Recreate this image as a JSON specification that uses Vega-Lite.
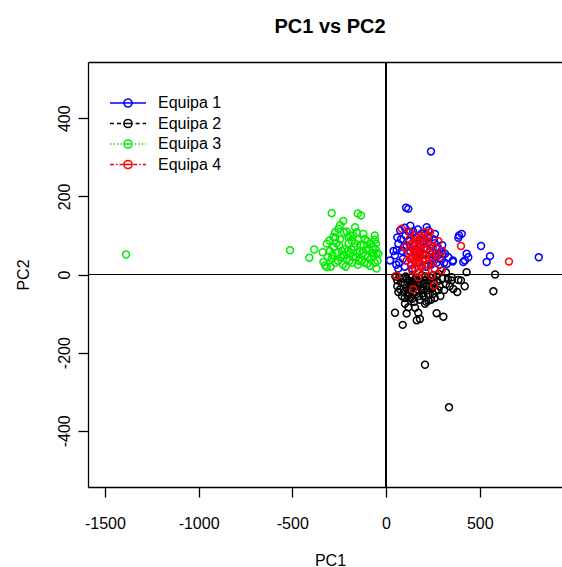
{
  "$schema": "https://vega.github.io/schema/vega-lite/v6.json",
  "autosize": "none",
  "width": 474,
  "height": 425,
  "padding": {"left": 88, "top": 62, "right": 0, "bottom": 80},
  "background": "white",
  "title": {"text": "PC1 vs PC2", "font": "Liberation Sans", "fontSize": 20, "fontWeight": "bold", "color": "black", "anchor": "middle", "dx": 5, "offset": 25},
  "config": {
    "view": {"stroke": null},
    "axis": {"grid": false, "domainColor": "black", "domainWidth": 1.3, "tickColor": "black", "tickWidth": 1.3, "tickSize": 10, "labelFont": "Liberation Sans", "labelFontSize": 16, "labelColor": "black", "titleFont": "Liberation Sans", "titleFontSize": 16, "titleFontWeight": "normal", "titleColor": "black"},
    "legend": {"title": null, "orient": "none", "legendX": 30, "legendY": 31, "padding": 0, "labelFont": "Liberation Sans", "labelFontSize": 16, "labelColor": "black", "labelOffset": 20, "rowPadding": 2.5, "symbolSize": 324, "symbolStrokeWidth": 1.5, "symbolOpacity": 1, "symbolFillColor": "transparent"}
  },
  "data": {"values": [
    {"grupo":"Equipa 2","PC1":48,"PC2":-98},{"grupo":"Equipa 2","PC1":89,"PC2":-129},{"grupo":"Equipa 2","PC1":119,"PC2":-84},{"grupo":"Equipa 2","PC1":101,"PC2":-75},{"grupo":"Equipa 2","PC1":172,"PC2":-98},{"grupo":"Equipa 2","PC1":181,"PC2":-114},{"grupo":"Equipa 2","PC1":164,"PC2":-117},{"grupo":"Equipa 2","PC1":270,"PC2":-99},{"grupo":"Equipa 2","PC1":306,"PC2":-108},{"grupo":"Equipa 2","PC1":226,"PC2":-67},{"grupo":"Equipa 2","PC1":208,"PC2":-75},{"grupo":"Equipa 2","PC1":66,"PC2":-45},{"grupo":"Equipa 2","PC1":359,"PC2":-37},{"grupo":"Equipa 2","PC1":386,"PC2":-14},{"grupo":"Equipa 2","PC1":350,"PC2":-7},{"grupo":"Equipa 2","PC1":430,"PC2":6},{"grupo":"Equipa 2","PC1":582,"PC2":0},{"grupo":"Equipa 2","PC1":573,"PC2":-43},{"grupo":"Equipa 2","PC1":350,"PC2":-15},{"grupo":"Equipa 2","PC1":208,"PC2":-231},{"grupo":"Equipa 2","PC1":336,"PC2":-340},{"grupo":"Equipa 2","PC1":130,"PC2":-60},{"grupo":"Equipa 2","PC1":150,"PC2":-70},{"grupo":"Equipa 2","PC1":200,"PC2":-55},{"grupo":"Equipa 2","PC1":250,"PC2":-50},{"grupo":"Equipa 2","PC1":280,"PC2":-40},{"grupo":"Equipa 2","PC1":320,"PC2":-25},{"grupo":"Equipa 2","PC1":300,"PC2":-10},{"grupo":"Equipa 2","PC1":270,"PC2":-5},{"grupo":"Equipa 2","PC1":240,"PC2":-20},{"grupo":"Equipa 2","PC1":400,"PC2":-15},{"grupo":"Equipa 2","PC1":420,"PC2":-30},{"grupo":"Equipa 2","PC1":380,"PC2":-45},{"grupo":"Equipa 2","PC1":110,"PC2":-100},{"grupo":"Equipa 2","PC1":60,"PC2":-30},{"grupo":"Equipa 2","PC1":80,"PC2":-20},{"grupo":"Equipa 2","PC1":90,"PC2":-10},{"grupo":"Equipa 2","PC1":100,"PC2":-25},{"grupo":"Equipa 2","PC1":110,"PC2":-35},{"grupo":"Equipa 2","PC1":120,"PC2":-15},{"grupo":"Equipa 2","PC1":130,"PC2":-40},{"grupo":"Equipa 2","PC1":140,"PC2":-5},{"grupo":"Equipa 2","PC1":150,"PC2":-30},{"grupo":"Equipa 2","PC1":160,"PC2":-45},{"grupo":"Equipa 2","PC1":170,"PC2":-20},{"grupo":"Equipa 2","PC1":180,"PC2":-10},{"grupo":"Equipa 2","PC1":190,"PC2":-35},{"grupo":"Equipa 2","PC1":200,"PC2":-25},{"grupo":"Equipa 2","PC1":210,"PC2":-5},{"grupo":"Equipa 2","PC1":220,"PC2":-40},{"grupo":"Equipa 2","PC1":230,"PC2":-15},{"grupo":"Equipa 2","PC1":95,"PC2":-45},{"grupo":"Equipa 2","PC1":105,"PC2":-5},{"grupo":"Equipa 2","PC1":115,"PC2":-55},{"grupo":"Equipa 2","PC1":125,"PC2":-28},{"grupo":"Equipa 2","PC1":135,"PC2":-18},{"grupo":"Equipa 2","PC1":145,"PC2":-50},{"grupo":"Equipa 2","PC1":155,"PC2":-12},{"grupo":"Equipa 2","PC1":165,"PC2":-38},{"grupo":"Equipa 2","PC1":175,"PC2":-55},{"grupo":"Equipa 2","PC1":185,"PC2":-22},{"grupo":"Equipa 2","PC1":195,"PC2":-48},{"grupo":"Equipa 2","PC1":205,"PC2":-15},{"grupo":"Equipa 2","PC1":215,"PC2":-30},{"grupo":"Equipa 2","PC1":225,"PC2":-52},{"grupo":"Equipa 2","PC1":235,"PC2":-8},{"grupo":"Equipa 2","PC1":245,"PC2":-35},{"grupo":"Equipa 2","PC1":255,"PC2":-22},{"grupo":"Equipa 2","PC1":265,"PC2":-42},{"grupo":"Equipa 2","PC1":275,"PC2":-18},{"grupo":"Equipa 2","PC1":285,"PC2":-30},{"grupo":"Equipa 2","PC1":70,"PC2":-8},{"grupo":"Equipa 2","PC1":75,"PC2":-38},{"grupo":"Equipa 2","PC1":85,"PC2":-55},{"grupo":"Equipa 2","PC1":140,"PC2":-62},{"grupo":"Equipa 2","PC1":180,"PC2":-65},{"grupo":"Equipa 2","PC1":160,"PC2":-8},{"grupo":"Equipa 2","PC1":190,"PC2":-2},{"grupo":"Equipa 2","PC1":120,"PC2":-48},{"grupo":"Equipa 2","PC1":200,"PC2":-40},{"grupo":"Equipa 2","PC1":170,"PC2":-30},{"grupo":"Equipa 2","PC1":150,"PC2":-18},{"grupo":"Equipa 2","PC1":130,"PC2":-25},{"grupo":"Equipa 2","PC1":110,"PC2":-12},{"grupo":"Equipa 2","PC1":260,"PC2":-60},{"grupo":"Equipa 2","PC1":290,"PC2":-55},{"grupo":"Equipa 2","PC1":310,"PC2":-40},{"grupo":"Equipa 2","PC1":330,"PC2":-12},{"grupo":"Equipa 2","PC1":340,"PC2":-30},{"grupo":"Equipa 2","PC1":60,"PC2":-15},{"grupo":"Equipa 2","PC1":50,"PC2":-5},{"grupo":"Equipa 2","PC1":240,"PC2":-65},{"grupo":"Equipa 2","PC1":215,"PC2":-70},{"grupo":"Equipa 2","PC1":155,"PC2":-85},{"grupo":"Equipa 2","PC1":100,"PC2":-60},{"grupo":"Equipa 2","PC1":230,"PC2":-30},{"grupo":"Equipa 2","PC1":250,"PC2":-2},{"grupo":"Equipa 2","PC1":320,"PC2":5},{"grupo":"Equipa 2","PC1":280,"PC2":2},

    {"grupo":"Equipa 1","PC1":240,"PC2":315},{"grupo":"Equipa 1","PC1":107,"PC2":171},{"grupo":"Equipa 1","PC1":119,"PC2":168},{"grupo":"Equipa 1","PC1":404,"PC2":104},{"grupo":"Equipa 1","PC1":390,"PC2":100},{"grupo":"Equipa 1","PC1":386,"PC2":94},{"grupo":"Equipa 1","PC1":507,"PC2":73},{"grupo":"Equipa 1","PC1":555,"PC2":47},{"grupo":"Equipa 1","PC1":537,"PC2":32},{"grupo":"Equipa 1","PC1":815,"PC2":44},{"grupo":"Equipa 1","PC1":430,"PC2":53},{"grupo":"Equipa 1","PC1":439,"PC2":44},{"grupo":"Equipa 1","PC1":421,"PC2":36},{"grupo":"Equipa 1","PC1":412,"PC2":32},{"grupo":"Equipa 1","PC1":356,"PC2":33},{"grupo":"Equipa 1","PC1":324,"PC2":27},{"grupo":"Equipa 1","PC1":302,"PC2":53},{"grupo":"Equipa 1","PC1":21,"PC2":36},{"grupo":"Equipa 1","PC1":75,"PC2":113},{"grupo":"Equipa 1","PC1":217,"PC2":121},{"grupo":"Equipa 1","PC1":226,"PC2":113},{"grupo":"Equipa 1","PC1":261,"PC2":104},{"grupo":"Equipa 1","PC1":315,"PC2":53},{"grupo":"Equipa 1","PC1":333,"PC2":44},{"grupo":"Equipa 1","PC1":357,"PC2":36},{"grupo":"Equipa 1","PC1":66,"PC2":79},{"grupo":"Equipa 1","PC1":57,"PC2":62},{"grupo":"Equipa 1","PC1":48,"PC2":49},{"grupo":"Equipa 1","PC1":80,"PC2":90},{"grupo":"Equipa 1","PC1":95,"PC2":70},{"grupo":"Equipa 1","PC1":105,"PC2":100},{"grupo":"Equipa 1","PC1":115,"PC2":55},{"grupo":"Equipa 1","PC1":125,"PC2":85},{"grupo":"Equipa 1","PC1":135,"PC2":40},{"grupo":"Equipa 1","PC1":145,"PC2":110},{"grupo":"Equipa 1","PC1":155,"PC2":65},{"grupo":"Equipa 1","PC1":165,"PC2":95},{"grupo":"Equipa 1","PC1":175,"PC2":30},{"grupo":"Equipa 1","PC1":185,"PC2":75},{"grupo":"Equipa 1","PC1":195,"PC2":50},{"grupo":"Equipa 1","PC1":205,"PC2":100},{"grupo":"Equipa 1","PC1":215,"PC2":20},{"grupo":"Equipa 1","PC1":225,"PC2":80},{"grupo":"Equipa 1","PC1":235,"PC2":60},{"grupo":"Equipa 1","PC1":245,"PC2":35},{"grupo":"Equipa 1","PC1":255,"PC2":90},{"grupo":"Equipa 1","PC1":265,"PC2":45},{"grupo":"Equipa 1","PC1":275,"PC2":70},{"grupo":"Equipa 1","PC1":285,"PC2":25},{"grupo":"Equipa 1","PC1":295,"PC2":60},{"grupo":"Equipa 1","PC1":90,"PC2":40},{"grupo":"Equipa 1","PC1":100,"PC2":20},{"grupo":"Equipa 1","PC1":110,"PC2":75},{"grupo":"Equipa 1","PC1":120,"PC2":110},{"grupo":"Equipa 1","PC1":130,"PC2":60},{"grupo":"Equipa 1","PC1":140,"PC2":15},{"grupo":"Equipa 1","PC1":150,"PC2":90},{"grupo":"Equipa 1","PC1":160,"PC2":45},{"grupo":"Equipa 1","PC1":170,"PC2":115},{"grupo":"Equipa 1","PC1":180,"PC2":55},{"grupo":"Equipa 1","PC1":190,"PC2":20},{"grupo":"Equipa 1","PC1":200,"PC2":85},{"grupo":"Equipa 1","PC1":210,"PC2":40},{"grupo":"Equipa 1","PC1":220,"PC2":65},{"grupo":"Equipa 1","PC1":230,"PC2":95},{"grupo":"Equipa 1","PC1":240,"PC2":25},{"grupo":"Equipa 1","PC1":250,"PC2":55},{"grupo":"Equipa 1","PC1":260,"PC2":80},{"grupo":"Equipa 1","PC1":270,"PC2":30},{"grupo":"Equipa 1","PC1":280,"PC2":50},{"grupo":"Equipa 1","PC1":60,"PC2":95},{"grupo":"Equipa 1","PC1":70,"PC2":30},{"grupo":"Equipa 1","PC1":85,"PC2":60},{"grupo":"Equipa 1","PC1":100,"PC2":120},{"grupo":"Equipa 1","PC1":130,"PC2":125},{"grupo":"Equipa 1","PC1":190,"PC2":105},{"grupo":"Equipa 1","PC1":170,"PC2":70},{"grupo":"Equipa 1","PC1":230,"PC2":40},{"grupo":"Equipa 1","PC1":290,"PC2":40},{"grupo":"Equipa 1","PC1":310,"PC2":30},{"grupo":"Equipa 1","PC1":300,"PC2":75},{"grupo":"Equipa 1","PC1":40,"PC2":60},{"grupo":"Equipa 1","PC1":55,"PC2":25},{"grupo":"Equipa 1","PC1":65,"PC2":15},

    {"grupo":"Equipa 3","PC1":-1387,"PC2":51},{"grupo":"Equipa 3","PC1":-512,"PC2":62},{"grupo":"Equipa 3","PC1":-383,"PC2":64},{"grupo":"Equipa 3","PC1":-409,"PC2":43},{"grupo":"Equipa 3","PC1":-290,"PC2":157},{"grupo":"Equipa 3","PC1":-151,"PC2":156},{"grupo":"Equipa 3","PC1":-133,"PC2":151},{"grupo":"Equipa 3","PC1":-228,"PC2":137},{"grupo":"Equipa 3","PC1":-245,"PC2":126},{"grupo":"Equipa 3","PC1":-254,"PC2":117},{"grupo":"Equipa 3","PC1":-272,"PC2":108},{"grupo":"Equipa 3","PC1":-281,"PC2":96},{"grupo":"Equipa 3","PC1":-165,"PC2":121},{"grupo":"Equipa 3","PC1":-156,"PC2":108},{"grupo":"Equipa 3","PC1":-224,"PC2":108},{"grupo":"Equipa 3","PC1":-192,"PC2":100},{"grupo":"Equipa 3","PC1":-183,"PC2":87},{"grupo":"Equipa 3","PC1":-121,"PC2":104},{"grupo":"Equipa 3","PC1":-112,"PC2":91},{"grupo":"Equipa 3","PC1":-59,"PC2":89},{"grupo":"Equipa 3","PC1":-53,"PC2":79},{"grupo":"Equipa 3","PC1":-302,"PC2":87},{"grupo":"Equipa 3","PC1":-316,"PC2":79},{"grupo":"Equipa 3","PC1":-338,"PC2":57},{"grupo":"Equipa 3","PC1":-334,"PC2":32},{"grupo":"Equipa 3","PC1":-325,"PC2":23},{"grupo":"Equipa 3","PC1":-316,"PC2":19},{"grupo":"Equipa 3","PC1":-50,"PC2":15},{"grupo":"Equipa 3","PC1":-41,"PC2":53},{"grupo":"Equipa 3","PC1":-300,"PC2":60},{"grupo":"Equipa 3","PC1":-290,"PC2":40},{"grupo":"Equipa 3","PC1":-280,"PC2":70},{"grupo":"Equipa 3","PC1":-270,"PC2":30},{"grupo":"Equipa 3","PC1":-260,"PC2":55},{"grupo":"Equipa 3","PC1":-250,"PC2":75},{"grupo":"Equipa 3","PC1":-240,"PC2":45},{"grupo":"Equipa 3","PC1":-230,"PC2":25},{"grupo":"Equipa 3","PC1":-220,"PC2":65},{"grupo":"Equipa 3","PC1":-210,"PC2":40},{"grupo":"Equipa 3","PC1":-200,"PC2":80},{"grupo":"Equipa 3","PC1":-190,"PC2":55},{"grupo":"Equipa 3","PC1":-180,"PC2":30},{"grupo":"Equipa 3","PC1":-170,"PC2":70},{"grupo":"Equipa 3","PC1":-160,"PC2":45},{"grupo":"Equipa 3","PC1":-150,"PC2":25},{"grupo":"Equipa 3","PC1":-140,"PC2":60},{"grupo":"Equipa 3","PC1":-130,"PC2":35},{"grupo":"Equipa 3","PC1":-120,"PC2":75},{"grupo":"Equipa 3","PC1":-110,"PC2":50},{"grupo":"Equipa 3","PC1":-100,"PC2":28},{"grupo":"Equipa 3","PC1":-90,"PC2":65},{"grupo":"Equipa 3","PC1":-80,"PC2":40},{"grupo":"Equipa 3","PC1":-70,"PC2":70},{"grupo":"Equipa 3","PC1":-60,"PC2":30},{"grupo":"Equipa 3","PC1":-50,"PC2":55},{"grupo":"Equipa 3","PC1":-295,"PC2":20},{"grupo":"Equipa 3","PC1":-285,"PC2":50},{"grupo":"Equipa 3","PC1":-265,"PC2":80},{"grupo":"Equipa 3","PC1":-255,"PC2":35},{"grupo":"Equipa 3","PC1":-235,"PC2":60},{"grupo":"Equipa 3","PC1":-225,"PC2":50},{"grupo":"Equipa 3","PC1":-215,"PC2":20},{"grupo":"Equipa 3","PC1":-205,"PC2":60},{"grupo":"Equipa 3","PC1":-195,"PC2":35},{"grupo":"Equipa 3","PC1":-185,"PC2":65},{"grupo":"Equipa 3","PC1":-175,"PC2":45},{"grupo":"Equipa 3","PC1":-165,"PC2":80},{"grupo":"Equipa 3","PC1":-155,"PC2":55},{"grupo":"Equipa 3","PC1":-145,"PC2":35},{"grupo":"Equipa 3","PC1":-135,"PC2":75},{"grupo":"Equipa 3","PC1":-125,"PC2":55},{"grupo":"Equipa 3","PC1":-115,"PC2":30},{"grupo":"Equipa 3","PC1":-105,"PC2":62},{"grupo":"Equipa 3","PC1":-95,"PC2":45},{"grupo":"Equipa 3","PC1":-85,"PC2":22},{"grupo":"Equipa 3","PC1":-75,"PC2":55},{"grupo":"Equipa 3","PC1":-65,"PC2":48},{"grupo":"Equipa 3","PC1":-55,"PC2":65},{"grupo":"Equipa 3","PC1":-45,"PC2":35},{"grupo":"Equipa 3","PC1":-310,"PC2":45},{"grupo":"Equipa 3","PC1":-245,"PC2":90},{"grupo":"Equipa 3","PC1":-200,"PC2":95},{"grupo":"Equipa 3","PC1":-175,"PC2":100},{"grupo":"Equipa 3","PC1":-150,"PC2":90},{"grupo":"Equipa 3","PC1":-100,"PC2":85},{"grupo":"Equipa 3","PC1":-80,"PC2":78},{"grupo":"Equipa 3","PC1":-270,"PC2":95},{"grupo":"Equipa 3","PC1":-210,"PC2":110},{"grupo":"Equipa 3","PC1":-60,"PC2":100},

    {"grupo":"Equipa 4","PC1":400,"PC2":73},{"grupo":"Equipa 4","PC1":656,"PC2":33},{"grupo":"Equipa 4","PC1":84,"PC2":117},{"grupo":"Equipa 4","PC1":128,"PC2":108},{"grupo":"Equipa 4","PC1":208,"PC2":108},{"grupo":"Equipa 4","PC1":235,"PC2":108},{"grupo":"Equipa 4","PC1":57,"PC2":-3},{"grupo":"Equipa 4","PC1":146,"PC2":-38},{"grupo":"Equipa 4","PC1":256,"PC2":-28},{"grupo":"Equipa 4","PC1":172,"PC2":-7},{"grupo":"Equipa 4","PC1":190,"PC2":95},{"grupo":"Equipa 4","PC1":225,"PC2":100},{"grupo":"Equipa 4","PC1":300,"PC2":60},{"grupo":"Equipa 4","PC1":288,"PC2":44},{"grupo":"Equipa 4","PC1":297,"PC2":10},{"grupo":"Equipa 4","PC1":244,"PC2":-3},{"grupo":"Equipa 4","PC1":120,"PC2":60},{"grupo":"Equipa 4","PC1":130,"PC2":40},{"grupo":"Equipa 4","PC1":140,"PC2":80},{"grupo":"Equipa 4","PC1":150,"PC2":55},{"grupo":"Equipa 4","PC1":160,"PC2":30},{"grupo":"Equipa 4","PC1":170,"PC2":70},{"grupo":"Equipa 4","PC1":180,"PC2":45},{"grupo":"Equipa 4","PC1":190,"PC2":20},{"grupo":"Equipa 4","PC1":200,"PC2":65},{"grupo":"Equipa 4","PC1":210,"PC2":40},{"grupo":"Equipa 4","PC1":220,"PC2":85},{"grupo":"Equipa 4","PC1":230,"PC2":55},{"grupo":"Equipa 4","PC1":240,"PC2":30},{"grupo":"Equipa 4","PC1":250,"PC2":70},{"grupo":"Equipa 4","PC1":125,"PC2":90},{"grupo":"Equipa 4","PC1":135,"PC2":25},{"grupo":"Equipa 4","PC1":145,"PC2":65},{"grupo":"Equipa 4","PC1":155,"PC2":100},{"grupo":"Equipa 4","PC1":165,"PC2":45},{"grupo":"Equipa 4","PC1":175,"PC2":85},{"grupo":"Equipa 4","PC1":185,"PC2":60},{"grupo":"Equipa 4","PC1":195,"PC2":35},{"grupo":"Equipa 4","PC1":205,"PC2":80},{"grupo":"Equipa 4","PC1":215,"PC2":50},{"grupo":"Equipa 4","PC1":225,"PC2":25},{"grupo":"Equipa 4","PC1":235,"PC2":75},{"grupo":"Equipa 4","PC1":245,"PC2":45},{"grupo":"Equipa 4","PC1":155,"PC2":15},{"grupo":"Equipa 4","PC1":165,"PC2":60},{"grupo":"Equipa 4","PC1":175,"PC2":35},{"grupo":"Equipa 4","PC1":185,"PC2":90},{"grupo":"Equipa 4","PC1":145,"PC2":45},{"grupo":"Equipa 4","PC1":160,"PC2":75},{"grupo":"Equipa 4","PC1":170,"PC2":50},{"grupo":"Equipa 4","PC1":180,"PC2":25},{"grupo":"Equipa 4","PC1":150,"PC2":35},{"grupo":"Equipa 4","PC1":165,"PC2":90},{"grupo":"Equipa 4","PC1":195,"PC2":55},{"grupo":"Equipa 4","PC1":140,"PC2":10},{"grupo":"Equipa 4","PC1":110,"PC2":35},{"grupo":"Equipa 4","PC1":100,"PC2":70},{"grupo":"Equipa 4","PC1":260,"PC2":15},{"grupo":"Equipa 4","PC1":270,"PC2":50},{"grupo":"Equipa 4","PC1":280,"PC2":85},{"grupo":"Equipa 4","PC1":210,"PC2":10},{"grupo":"Equipa 4","PC1":175,"PC2":5}
  ]},
  "resolve": {"axis": {"x": "independent", "y": "independent"}},
  "layer": [
    {
      "mark": {"type": "rule", "color": "black", "strokeWidth": 1},
      "encoding": {
        "x": {"datum": 0, "type": "quantitative", "scale": {"domain": [-1590, 939], "nice": false, "zero": false}, "axis": null}
      }
    },
    {
      "mark": {"type": "rule", "color": "black", "strokeWidth": 1},
      "encoding": {
        "y": {"datum": 0, "type": "quantitative", "scale": {"domain": [-544, 544], "nice": false, "zero": false}, "axis": null}
      }
    },
    {
      "mark": {"type": "point", "shape": "circle", "filled": false, "size": 48, "strokeWidth": 1.5, "opacity": 1},
      "encoding": {
        "x": {"field": "PC1", "type": "quantitative", "scale": {"domain": [-1590, 939], "nice": false, "zero": false},
              "axis": {"title": "PC1", "values": [-1500, -1000, -500, 0, 500], "labelExpr": "'' + datum.value", "domain": true, "titleX": 242, "titleY": 78, "titleBaseline": "alphabetic", "labelPadding": 18, "labelFlush": false}},
        "y": {"field": "PC2", "type": "quantitative", "scale": {"domain": [-544, 544], "nice": false, "zero": false},
              "axis": {"title": "PC2", "values": [-400, -200, 0, 200, 400], "labelExpr": "'' + datum.value", "domain": true, "labelAngle": -90, "labelAlign": "center", "labelBaseline": "middle", "labelPadding": 14, "labelFlush": false, "titleX": -65, "titleBaseline": "middle", "titleAngle": -90}},
        "color": {"field": "grupo", "type": "nominal", "scale": {"domain": ["Equipa 1", "Equipa 2", "Equipa 3", "Equipa 4"], "range": ["#0000ff", "#000000", "#00ee00", "#ff0000"]}}
      }
    },
    {
      "mark": {"type": "point", "shape": "circle", "filled": false, "size": 48, "strokeWidth": 1.5, "opacity": 0},
      "encoding": {
        "x": {"field": "PC1", "type": "quantitative", "scale": {"domain": [-1590, 939], "nice": false, "zero": false},
              "axis": {"orient": "top", "title": null, "labels": false, "ticks": false, "domain": true}},
        "y": {"field": "PC2", "type": "quantitative", "scale": {"domain": [-544, 544], "nice": false, "zero": false}, "axis": null},
        "color": {"field": "grupo", "type": "nominal", "scale": {"domain": ["Equipa 1", "Equipa 2", "Equipa 3", "Equipa 4"], "range": ["#0000ff", "#000000", "#00ee00", "#ff0000"]}},
        "strokeDash": {"field": "grupo", "type": "nominal", "scale": {"domain": ["Equipa 1", "Equipa 2", "Equipa 3", "Equipa 4"], "range": [[1, 0], [4, 3, 4, 2.95, 33.55, 2.95, 4, 3, 4], [1.5, 2, 1.5, 2, 1.5, 2, 1.5, 1.95, 33.55, 1.95, 1.5, 2, 1.5, 2, 1.5, 2, 1.5], [4, 2, 1.5, 2, 4, 0.45, 33.55, 0.45, 4, 2, 1.5, 2, 4]]},
                  "legend": {"symbolType": "M-2,0L-0.45,0A0.45,0.45 0 1,1 0.45,0A0.45,0.45 0 1,1 -0.45,0L2,0", "symbolOpacity": 1}}
      }
    }
  ]
}
